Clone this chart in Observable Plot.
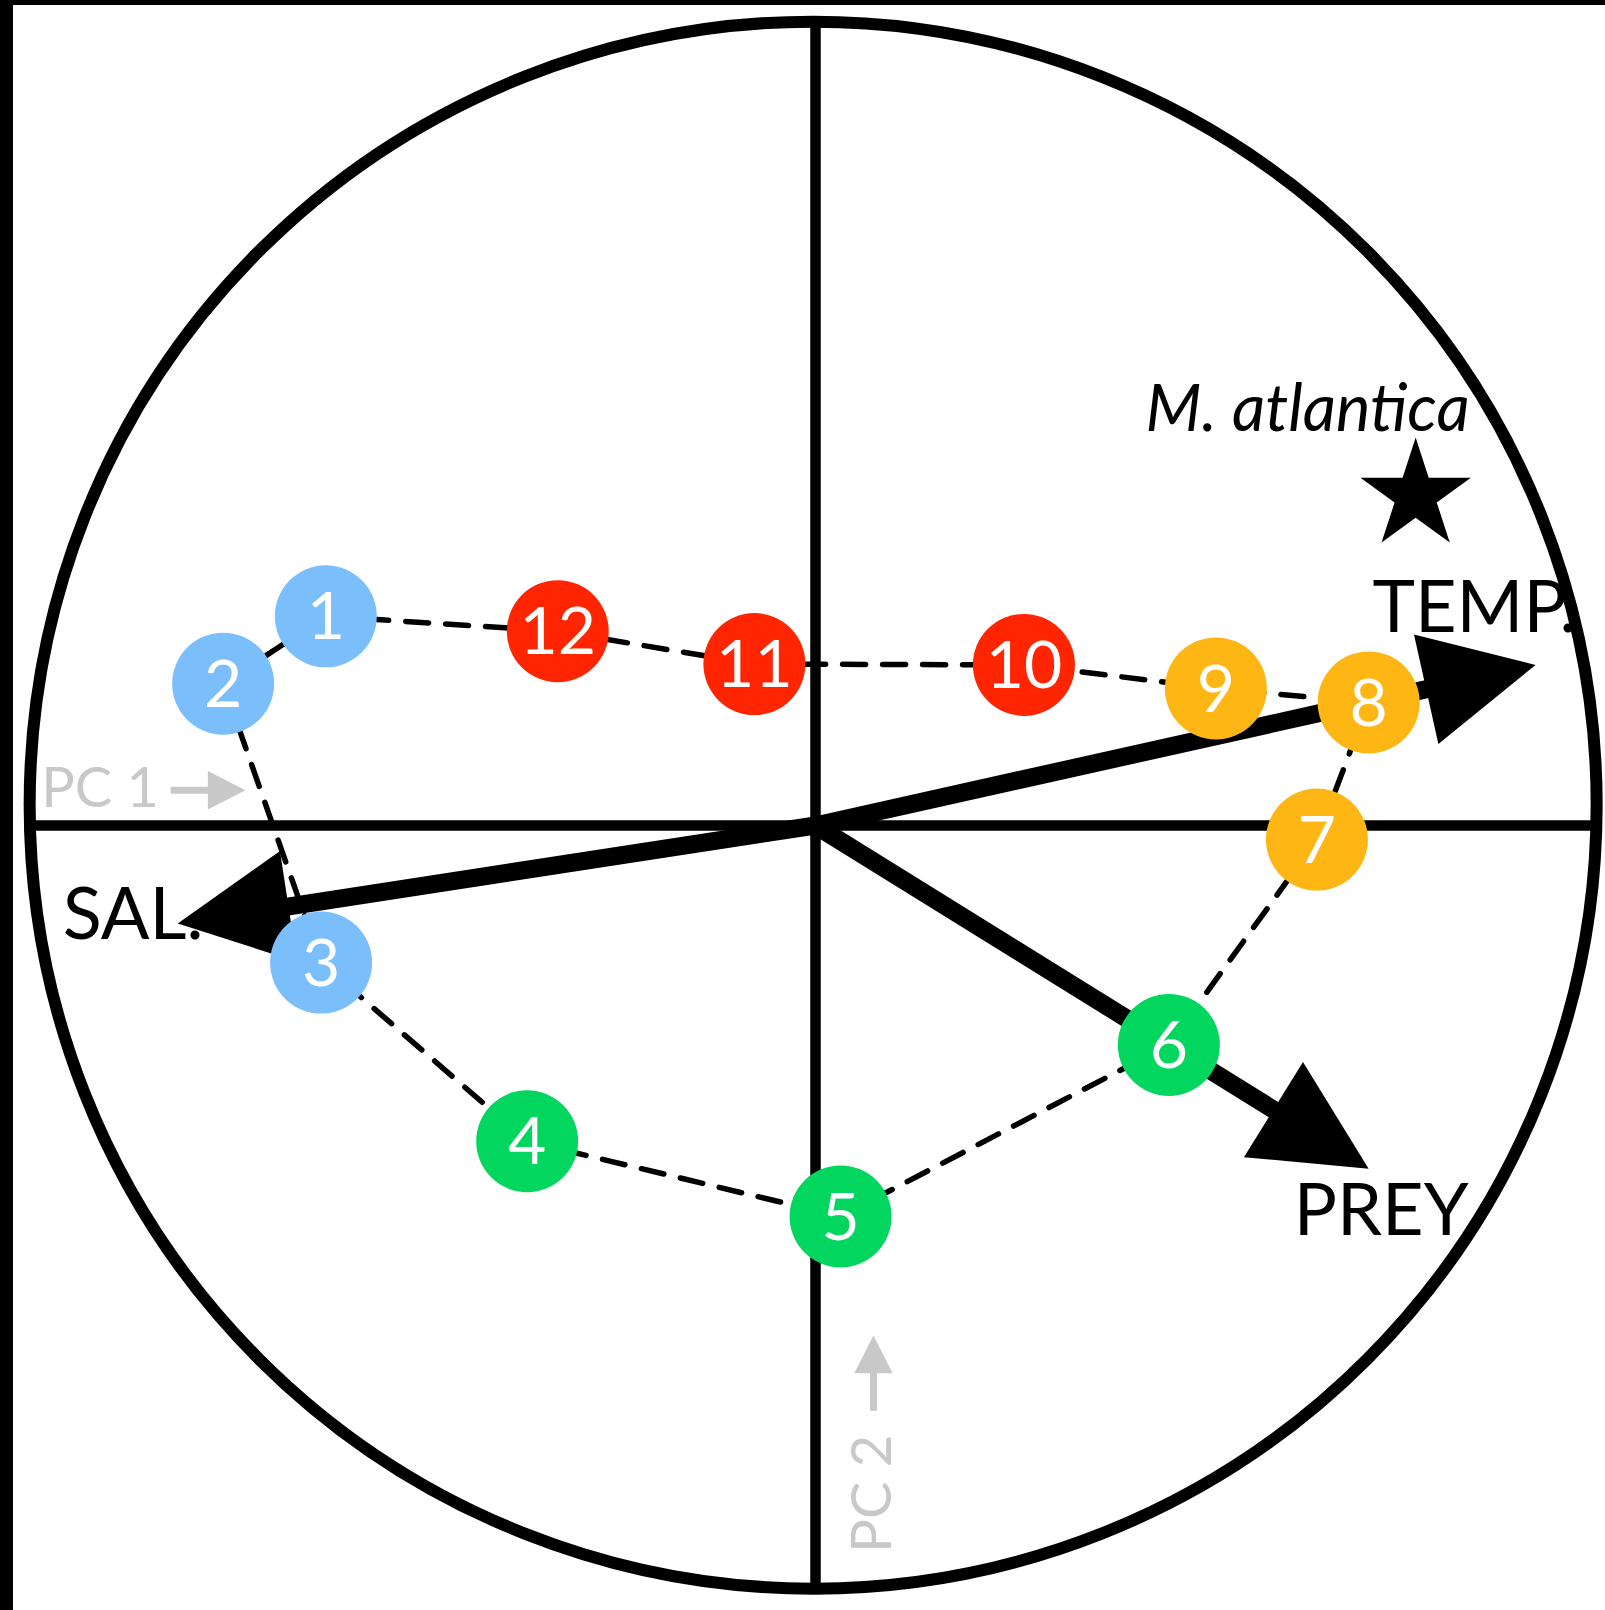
<!DOCTYPE html>
<html><head><meta charset="utf-8">
<script src="https://cdn.jsdelivr.net/npm/d3@7"></script>
<script src="https://cdn.jsdelivr.net/npm/@observablehq/plot@0.6"></script>
<style>
html,body{margin:0;padding:0;background:#fff;}
#wrap{position:relative;width:1605px;height:1610px;overflow:hidden;}
#wrap svg{display:block;}
.band{position:absolute;background:#000;}
</style></head><body>
<div id="wrap"></div>
<script>
// ---- DATA (PCA space, unit = radius of correlation circle) ----
const months = [1,2,3,4,5,6,7,8,9,10,11,12];
const monthPC1 = [-0.625,-0.756,-0.631,-0.368,0.032,0.451,0.640,0.706,0.511,0.266,-0.078,-0.329];
const monthPC2 = [0.267,0.181,-0.175,-0.403,-0.499,-0.280,-0.018,0.157,0.175,0.205,0.206,0.248];
const monthSeason = ["winter","winter","winter","spring","spring","spring","summer","summer","summer","autumn","autumn","autumn"];
const seasons = ["winter","spring","summer","autumn"];
const seasonColors = ["#7bbefc","#02d65e","#fdb614","#ff2500"];
const loopOrder = [1,12,11,10,9,8,7,6,5,4,3,2,1];

const variables = ["TEMP.","SAL.","PREY"];
const varTipPC1 = [0.919,-0.814,0.706];
const varTipPC2 = [0.205,-0.125,-0.438];
const varLabelPC1 = [0.841,-0.871,0.722];
const varLabelPC2 = [0.276,-0.115,-0.493];

const species = ["M. atlantica"];
const speciesPC1 = [0.766];
const speciesPC2 = [0.421];
const speciesLabelPC1 = [0.628];
const speciesLabelPC2 = [0.530];

const circleCenter = [-0.003, 0.026];
const circleRadius = 1;

const axisNames = ["PC 1","PC 2"];
const axisLabelPC1 = [-0.913, 0.073];
const axisLabelPC2 = [0.046, -0.853];
const axisArrowFrom = [[-0.823, 0.045],[0.074,-0.747]];
const axisArrowTo = [[-0.7275, 0.045],[0.074,-0.651]];

(function(){
// ---- LAYOUT ----
const W = 1605, H = 1610, PX = 783.5, OX = 815, OY = 825;
const xDomain = [(0-OX)/PX, (W-OX)/PX];
const yDomain = [(OY-H)/PX, (OY-0)/PX];
const FONT = "Lato, 'Open Sans', sans-serif";

const pts = months.map((m,i)=>({m, x:monthPC1[i], y:monthPC2[i], s:monthSeason[i]}));
const byMonth = new Map(pts.map(d=>[d.m,d]));
const loop = loopOrder.map(m=>byMonth.get(m));

function head(fx, fy, tx, ty, len, wid, name){
  const dx = tx-fx, dy = ty-fy, L = Math.hypot(dx,dy);
  const ux = dx/L, uy = dy/L, px = -uy, py = ux;
  const bx = tx-ux*len, by = ty-uy*len;
  return {
    tri: [{name,x:tx,y:ty},{name,x:bx+px*wid/2,y:by+py*wid/2},{name,x:bx-px*wid/2,y:by-py*wid/2}],
    shaft: {name,x1:fx,y1:fy,x2:tx-ux*len*0.8,y2:ty-uy*len*0.8}
  };
}
const mainHeads = variables.map((v,i)=>head(0,0,varTipPC1[i],varTipPC2[i],0.143,0.143,v));
const grayHeads = axisNames.map((v,i)=>head(axisArrowFrom[i][0],axisArrowFrom[i][1],axisArrowTo[i][0],axisArrowTo[i][1],0.048,0.049,v));

const cx = circleCenter[0], cy = circleCenter[1];
const hx = Math.sqrt(circleRadius**2 - cy**2), vy = Math.sqrt(circleRadius**2 - cx**2);

const plot = Plot.plot({
  width: W, height: H, margin: 0,
  x: {domain: xDomain, axis: null},
  y: {domain: yDomain, axis: null},
  style: {background: "white", overflow: "visible"},
  marks: [
    Plot.link([{x1:cx-hx, x2:cx+hx}], {x1:"x1", x2:"x2", y1:0, y2:0, stroke:"black", strokeWidth:10.5}),
    Plot.link([{y1:cy-vy, y2:cy+vy}], {y1:"y1", y2:"y2", x1:0, x2:0, stroke:"black", strokeWidth:10.5}),
    Plot.dot([{x:cx,y:cy}], {x:"x", y:"y", r: circleRadius*PX, stroke:"black", strokeWidth:12, fill:"none"}),
    Plot.line(loop, {x:"x", y:"y", stroke:"black", strokeWidth:5.5, strokeDasharray:"23,17"}),
    Plot.link(mainHeads.map(h=>h.shaft), {x1:"x1", y1:"y1", x2:"x2", y2:"y2", stroke:"black", strokeWidth:18}),
    Plot.line(mainHeads.flatMap(h=>h.tri), {x:"x", y:"y", z:"name", fill:"black", stroke:"none"}),
    Plot.link(grayHeads.map(h=>h.shaft), {x1:"x1", y1:"y1", x2:"x2", y2:"y2", stroke:"#c8c8c8", strokeWidth:7}),
    Plot.line(grayHeads.flatMap(h=>h.tri), {x:"x", y:"y", z:"name", fill:"#c8c8c8", stroke:"none"}),
    Plot.dot(pts, {x:"x", y:"y", r:51, fill: d=>seasonColors[seasons.indexOf(d.s)], stroke:"none"}),
    Plot.text(pts, {x:"x", y:"y", text: d=>String(d.m), fill:"white", fontSize:66, fontFamily:FONT, dy:2, style:{letterSpacing:"-2px"}}),
    Plot.text(variables.map((v,i)=>({v,x:varLabelPC1[i],y:varLabelPC2[i]})), {x:"x", y:"y", text:"v", fill:"black", fontSize:72, fontFamily:FONT}),
    Plot.dot(species.map((s,i)=>({x:speciesPC1[i],y:speciesPC2[i]})), {x:"x", y:"y", symbol:"star", r:34.7, fill:"black", stroke:"none"}),
    Plot.text(species.map((s,i)=>({s,x:speciesLabelPC1[i],y:speciesLabelPC2[i]})), {x:"x", y:"y", text:"s", fill:"black", fontSize:65, fontStyle:"italic", fontFamily:FONT}),
    Plot.text(axisNames.map((s,i)=>({s,x:axisLabelPC1[i],y:axisLabelPC2[i],r:i===0?0:-90})), {x:"x", y:"y", text:"s", rotate:"r", fill:"#c8c8c8", fontSize:56, fontFamily:FONT})
  ]
});
const wrap = document.getElementById("wrap");
wrap.appendChild(plot);
const bandTop = document.createElement("div"); bandTop.className="band"; Object.assign(bandTop.style,{left:"0",top:"0",width:W+"px",height:"5px"});
const bandLeft = document.createElement("div"); bandLeft.className="band"; Object.assign(bandLeft.style,{left:"0",top:"0",width:"13px",height:H+"px"});
wrap.appendChild(bandTop); wrap.appendChild(bandLeft);
})();
</script>
</body></html>
